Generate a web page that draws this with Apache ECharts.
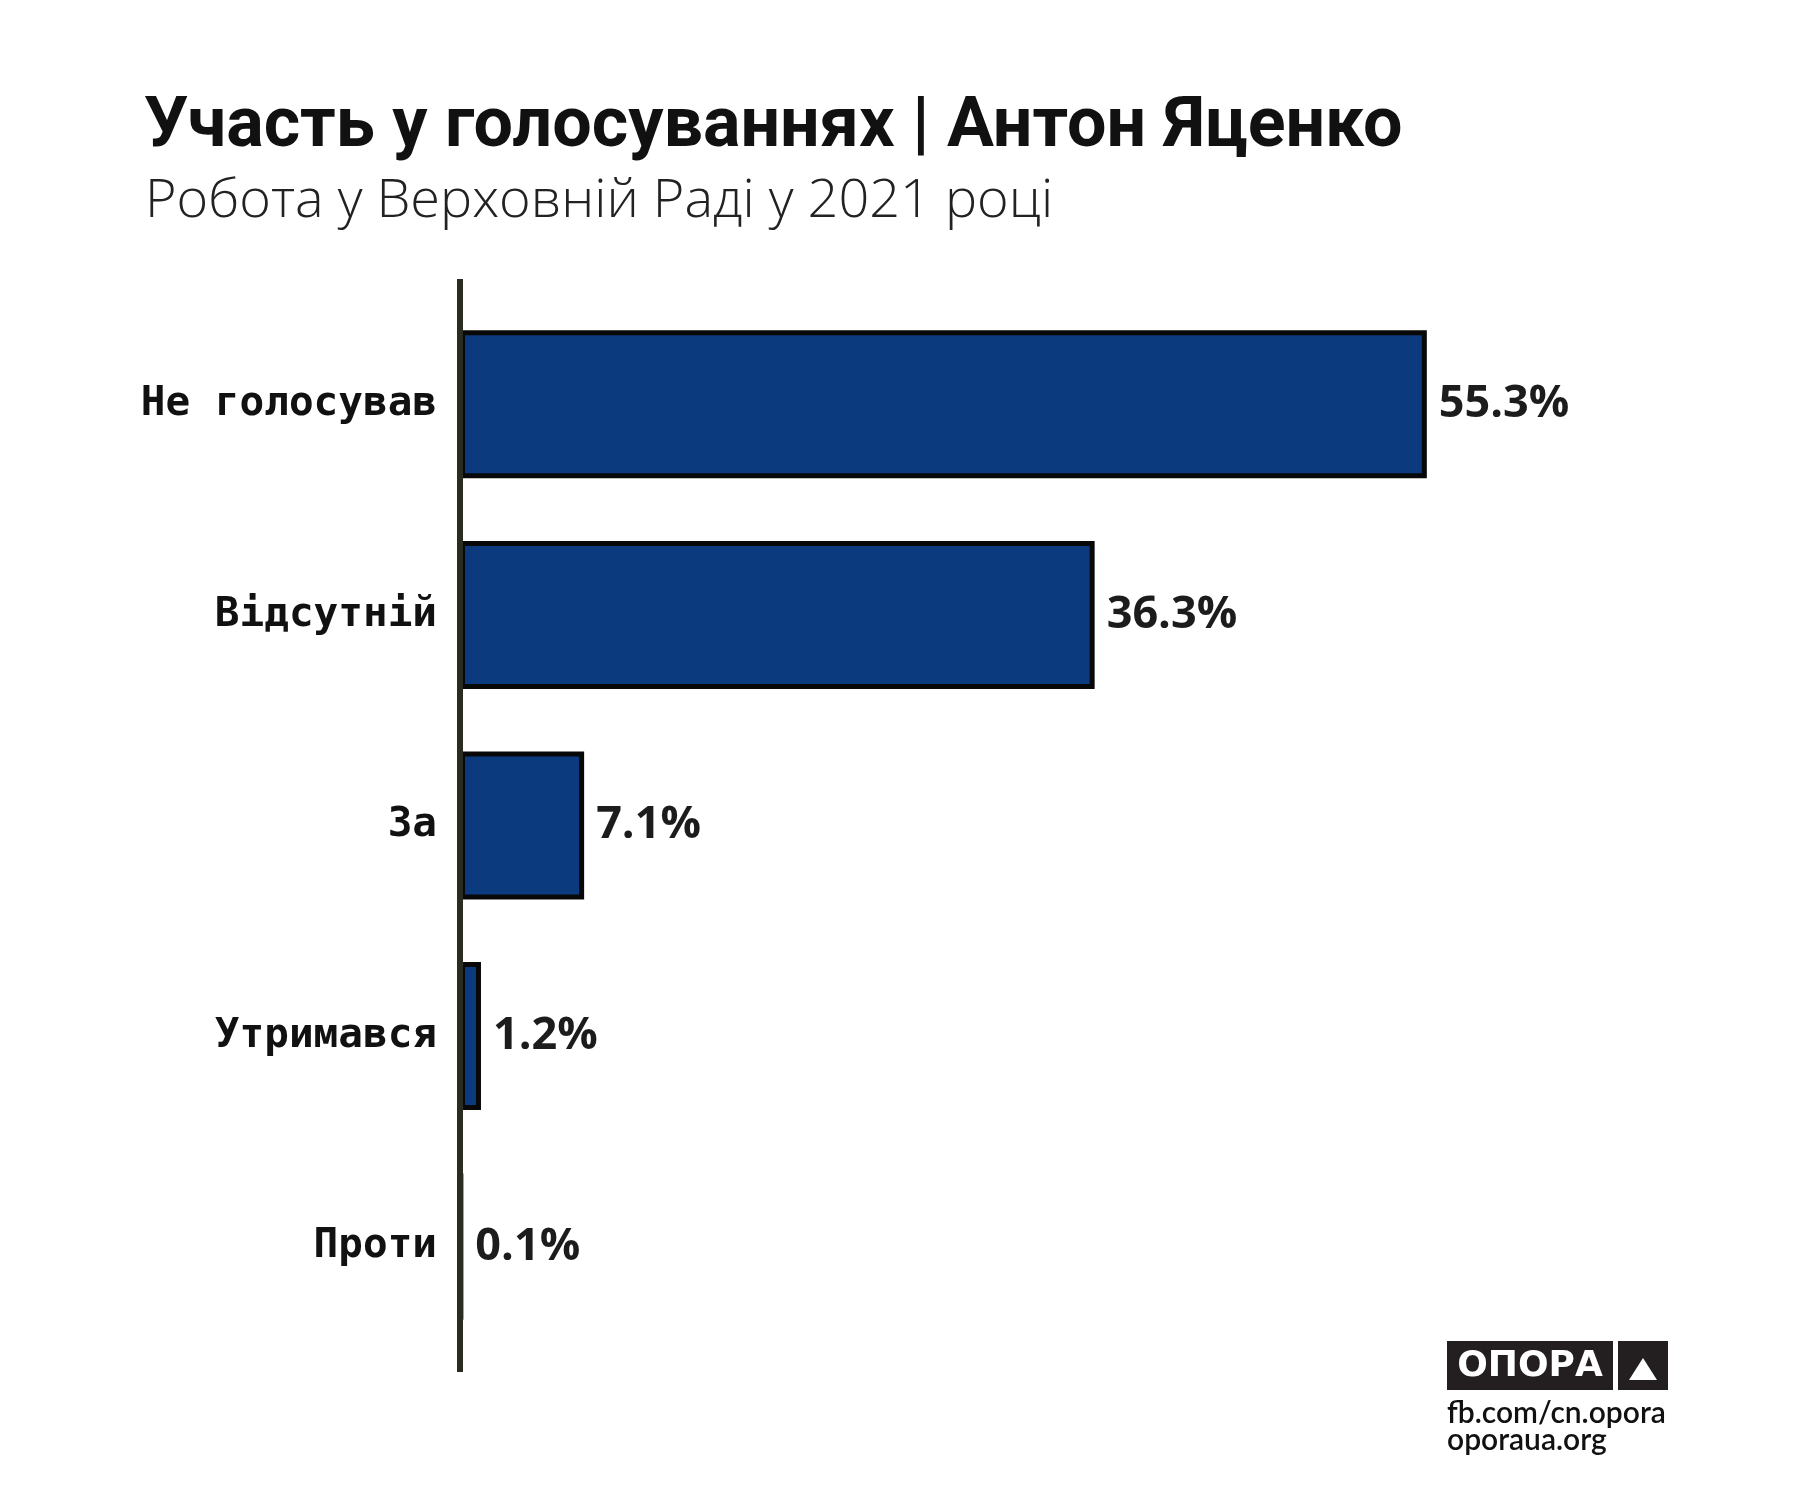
<!DOCTYPE html>
<html>
<head>
<meta charset="utf-8">
<script src="https://cdn.jsdelivr.net/npm/echarts@6/dist/echarts.min.js"></script>
<style>
  html, body { margin: 0; padding: 0; background: #fff; }
  #chart { width: 1800px; height: 1500px; }
</style>
</head>
<body>
<div id="chart"></div>
<script>
var categories = ["Не голосував", "Відсутній", "За", "Утримався", "Проти"];
var shares = [55.3, 36.3, 7.1, 1.2, 0.1];

var titleText = "Участь у голосуваннях | Антон Яценко";
var subtitleText = "Робота у Верховній Раді у 2021 році";

// plot area
var gridLeft = 460, gridTop = 299, gridHeight = 1053, gridRight = 291;

var myChart = echarts.init(document.getElementById("chart"));
var option = {
  backgroundColor: "#fff",
  title: [
    {
      text: titleText,
      left: 139,
      top: 88,
      textStyle: {
        fontFamily: "Roboto",
        fontWeight: "bold",
        fontSize: 70,
        color: "#111",
      },
    },
    {
      text: subtitleText,
      left: 140,
      top: 170,
      textStyle: {
        fontFamily: "Open Sans",
        fontWeight: 300,
        fontSize: 54,
        color: "#222",
      },
    },
  ],
  grid: {
    left: gridLeft,
    top: gridTop,
    right: gridRight,
    height: gridHeight,
    containLabel: false,
  },
  xAxis: {
    type: "value",
    min: 0,
    max: 60,
    show: false,
  },
  yAxis: {
    type: "category",
    data: categories,
    inverse: true,
    axisLine: { show: false },
    axisTick: { show: false },
    splitLine: { show: false },
    axisLabel: {
      margin: 23,
      fontFamily: "DejaVu Sans Mono",
      fontWeight: "bold",
      fontSize: 41,
      color: "#111",
    },
  },
  series: [
    {
      type: "bar",
      data: shares,
      barWidth: 148,
      itemStyle: {
        color: "#0b3a7e",
        borderColor: "#080808",
        borderWidth: 5,
      },
      label: {
        show: true,
        position: "right",
        distance: 12,
        fontFamily: "Open Sans",
        fontWeight: "bold",
        fontSize: 45,
        color: "#1c1c1c",
        formatter: function (p) {
          return p.value.toFixed(1) + "%";
        },
      },
    },
  ],
  graphic: [
    // vertical axis line, a bit longer than the category bands
    {
      type: "line",
      z: 10,
      shape: { x1: gridLeft, y1: gridTop - 20, x2: gridLeft, y2: gridTop + gridHeight + 20 },
      style: { stroke: "#2b2b23", lineWidth: 6 },
    },
    // logo
    {
      type: "group",
      left: 1447,
      top: 1341,
      children: [
        { type: "rect", shape: { x: 0, y: 0, width: 166, height: 49 }, style: { fill: "#231f20" } },
        {
          type: "text",
          x: 83,
          y: 26,
          style: {
            text: "ОПОРА",
            fill: "#fff",
            font: "bold 36px 'DejaVu Sans'",
            align: "center",
            verticalAlign: "middle",
          },
        },
        { type: "rect", shape: { x: 171, y: 0, width: 50, height: 49 }, style: { fill: "#231f20" } },
        {
          type: "polygon",
          shape: { points: [[182, 39], [210, 39], [196, 17]] },
          style: { fill: "#fff" },
        },
        {
          type: "text",
          x: 0,
          y: 57,
          style: { text: "fb.com/cn.opora", fill: "#111", font: "600 30px Lato" },
        },
        {
          type: "text",
          x: 0,
          y: 84,
          style: { text: "oporaua.org", fill: "#111", font: "600 30px Lato" },
        },
      ],
    },
  ],
};
myChart.setOption(option);
</script>
</body>
</html>
